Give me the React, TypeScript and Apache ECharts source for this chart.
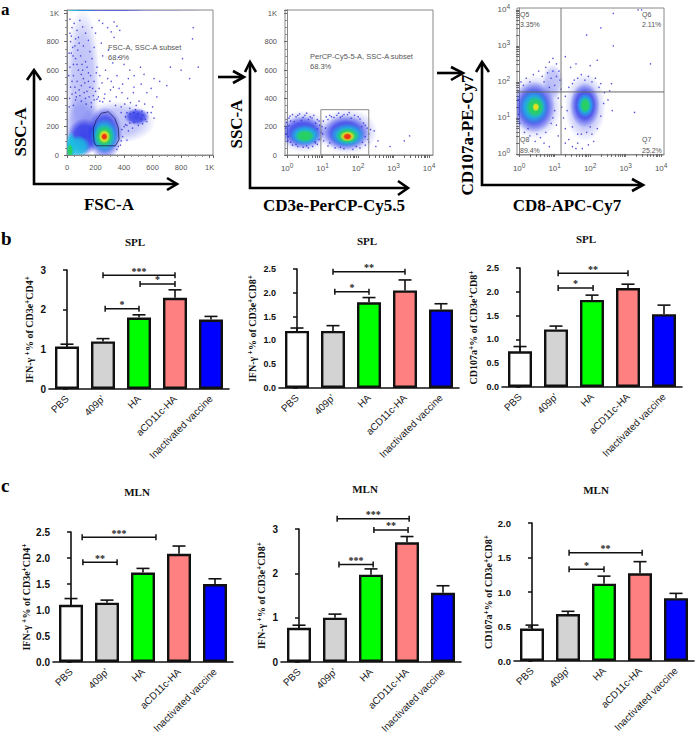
import React, { useEffect, useRef } from "react";
import * as echarts from "echarts";

const categories = ["PBS", "409p'", "HA", "aCD11c-HA", "Inactivated vaccine"];
const barColors = ["#ffffff", "#d3d3d3", "#00ff00", "#ff8080", "#0000ff"];

const b1Values = [1.07, 1.2, 1.8, 2.3, 1.75];
const b1Tops = [1.13, 1.27, 1.87, 2.5, 1.83];
const b2Values = [1.2, 1.2, 1.8, 2.05, 1.65];
const b2Tops = [1.26, 1.31, 1.9, 2.27, 1.77];
const b3Values = [0.75, 1.21, 1.83, 2.08, 1.53];
const b3Tops = [0.85, 1.28, 1.93, 2.16, 1.72];
const c1Values = [1.1, 1.14, 1.72, 2.08, 1.5];
const c1Tops = [1.22, 1.19, 1.8, 2.23, 1.6];
const c2Values = [0.77, 1.0, 1.97, 2.7, 1.56];
const c2Tops = [0.83, 1.08, 2.1, 2.83, 1.72];
const c3Values = [0.47, 0.68, 1.12, 1.27, 0.91];
const c3Tops = [0.52, 0.72, 1.23, 1.44, 0.98];

// [from, to, height, stars]; from and to in category units
const b1Brackets = [[1.0, 3.0, 2.87, "***"], [2.03, 3.0, 2.65, "*"], [1.06, 2.0, 2.02, "*"]];
const b2Brackets = [[1.0, 3.0, 2.44, "**"], [1.05, 2.0, 2.02, "*"]];
const b3Brackets = [[1.06, 3.0, 2.39, "**"], [1.06, 2.03, 2.08, "*"]];
const c1Brackets = [[0.31, 2.36, 2.4, "***"], [0.33, 1.28, 1.92, "**"]];
const c2Brackets = [[1.06, 3.06, 3.23, "***"], [2.08, 3.03, 2.98, "**"], [1.11, 2.06, 2.2, "***"]];
const c3Brackets = [[1.03, 3.06, 1.57, "**"], [1.03, 2.0, 1.33, "*"]];

// density blobs: [centre x, centre y, radius x, radius y, level]
const fscBlobs = [
  [100, 1020, 110, 5, 2], [300, 1020, 300, 3, 1], [600, 1020, 420, 3, 0],
  [110, 520, 120, 520, 0], [100, 200, 130, 230, 0], [350, 230, 270, 150, 0],
  [490, 270, 90, 60, 1], [120, 130, 120, 130, 1], [28, 60, 34, 110, 2],
  [75, 60, 90, 80, 2], [22, 30, 22, 50, 3], [265, 150, 125, 190, 1],
  [262, 135, 100, 125, 2], [262, 132, 70, 85, 3], [262, 130, 42, 50, 4], [262, 130, 24, 26, 5],
];
const cd3Blobs = [
  [0.45, 165, 0.75, 150, 0], [0.45, 160, 0.62, 115, 1], [0.5, 140, 0.44, 75, 2], [0.5, 135, 0.28, 46, 3],
  [1.7, 165, 0.85, 160, 0], [1.65, 155, 0.68, 125, 1], [1.7, 140, 0.5, 85, 2], [1.7, 135, 0.34, 58, 3],
  [1.7, 132, 0.22, 38, 4], [1.7, 130, 0.13, 25, 5],
];
const cd8Blobs = [
  [0.45, 1.3, 0.75, 0.9, 0], [0.42, 1.3, 0.6, 0.72, 1], [0.42, 1.3, 0.42, 0.48, 2], [0.45, 1.3, 0.27, 0.3, 3],
  [0.47, 1.3, 0.1, 0.12, 4], [0.95, 2.0, 0.3, 0.5, 0], [1.86, 1.3, 0.58, 0.95, 0], [1.85, 1.35, 0.42, 0.62, 1],
  [1.86, 1.35, 0.25, 0.34, 2], [1.86, 1.35, 0.15, 0.22, 3],
];

const fscDots = [
  [20, 960], [35, 900], [50, 930], [70, 880], [90, 950], [110, 905], [130, 860], [60, 820], [25, 800], [85, 790],
  [115, 770], [150, 810], [175, 900], [200, 860], [225, 950], [250, 930], [285, 900], [310, 870], [330, 940], [350, 910],
  [370, 880], [330, 830], [240, 790], [190, 760], [160, 730], [30, 720], [60, 680], [95, 700], [130, 660], [175, 680],
  [210, 620], [250, 700], [290, 740], [320, 650], [360, 690], [400, 640], [440, 600], [470, 560], [515, 620], [540, 570],
  [610, 540], [650, 520], [700, 490], [725, 620], [810, 680], [880, 820], [885, 900], [920, 620], [860, 540], [800, 600],
  [20, 620], [45, 560], [80, 600], [115, 540], [150, 580], [190, 520], [230, 560], [270, 600], [310, 520], [350, 560],
  [390, 500], [430, 540], [470, 480], [520, 500], [560, 440], [590, 470], [630, 410], [25, 480], [60, 440], [100, 490],
  [140, 450], [185, 420], [225, 470], [265, 430], [305, 460], [345, 410], [385, 440], [425, 400], [465, 440], [505, 380],
  [545, 360], [600, 340], [40, 760], [75, 740], [105, 640], [140, 620], [165, 560], [205, 580], [245, 510], [285, 540],
  [325, 480], [365, 470], [405, 360], [445, 370], [485, 350], [525, 310], [565, 300], [440, 330], [480, 320], [520, 255],
  [560, 235], [590, 300], [610, 260], [400, 200], [430, 170], [460, 190], [390, 130], [420, 105], [375, 70], [350, 40],
  [60, 390], [90, 420], [130, 400], [170, 370], [210, 395], [250, 375], [300, 380], [340, 350], [380, 340], [420, 300],
  [20, 860], [15, 720], [12, 560], [18, 400], [45, 640], [70, 520], [100, 570], [125, 510], [160, 480], [200, 450],
  [30, 840], [55, 770], [80, 830], [42, 700], [70, 640], [110, 600], [150, 520], [180, 470], [220, 410], [260, 400],
  [35, 520], [55, 480], [85, 460], [120, 440], [155, 410], [190, 390], [230, 380], [35, 430], [65, 410], [100, 380],
  [135, 360], [170, 340], [380, 300], [410, 270], [440, 290], [470, 300], [500, 290], [530, 280], [550, 250], [530, 220],
  [500, 210], [470, 230], [440, 225], [410, 215], [385, 180], [420, 210], [380, 100], [360, 60], [15, 340], [45, 350],
];
const cd3Dots = [
  [-0.02, 230], [0.05, 260], [0.15, 285], [0.25, 270], [0.35, 290], [0.45, 265], [0.55, 295], [0.65, 270], [0.75, 280], [0.85, 250],
  [0.92, 210], [0.95, 160], [0.9, 110], [0.85, 75], [0.72, 60], [0.6, 50], [0.45, 55], [0.3, 60], [0.15, 70], [0.02, 100],
  [-0.03, 150], [-0.04, 190], [0.1, 240], [0.2, 235], [0.4, 245], [0.6, 250], [0.8, 225], [0.85, 185], [0.78, 95], [0.1, 90],
  [1.02, 240], [1.1, 270], [1.2, 280], [1.32, 265], [1.45, 295], [1.6, 285], [1.75, 300], [1.9, 280], [2.05, 255], [2.15, 225],
  [2.25, 190], [2.3, 150], [2.28, 110], [2.2, 70], [2.05, 50], [1.85, 40], [1.6, 45], [1.35, 50], [1.15, 65], [1.03, 100],
  [1.0, 150], [0.98, 200], [1.15, 250], [1.5, 265], [1.8, 260], [2.1, 200], [2.2, 130], [2.12, 90], [1.2, 85], [1.08, 190],
  [2.56, 100], [2.9, 60], [3.3, 100], [3.45, 135], [2.45, 170], [2.5, 60],
  [0.08, 275], [0.3, 280], [0.5, 280], [0.7, 262], [0.9, 240], [0.03, 130], [0.05, 205], [0.25, 75], [0.55, 65], [0.8, 85],
  [1.25, 270], [1.4, 280], [1.55, 275], [1.7, 285], [2.0, 270], [2.2, 210], [2.35, 180], [2.3, 90], [1.95, 60], [1.5, 55],
];
const cd8Dots = [
  [0.05, 2.0], [0.2, 2.1], [0.4, 2.2], [0.55, 2.3], [0.65, 2.15], [0.75, 2.4], [0.85, 2.55], [0.95, 2.65], [1.05, 2.5], [1.12, 2.3],
  [1.15, 2.05], [1.18, 1.8], [1.1, 1.55], [1.0, 1.2], [0.9, 0.85], [0.75, 0.6], [0.6, 0.45], [0.45, 0.35], [0.3, 0.5], [0.15, 0.6],
  [0.02, 0.85], [-0.02, 1.1], [-0.03, 1.5], [0.95, 2.3], [0.8, 2.25], [0.7, 0.3], [0.85, 0.2], [1.05, 0.8], [1.2, 1.3], [1.25, 1.0],
  [1.3, 0.7], [1.4, 0.4], [1.5, 0.2], [1.65, 0.3], [1.78, 0.15], [1.95, 0.25], [2.1, 0.35], [2.2, 0.7], [2.3, 1.05], [2.38, 1.4],
  [2.4, 1.7], [2.3, 1.95], [2.15, 2.1], [1.95, 2.15], [1.75, 2.2], [1.55, 2.05], [1.4, 1.85], [1.3, 1.6], [1.35, 1.2], [1.5, 0.75],
  [1.9, 0.6], [2.05, 0.55], [1.65, 0.55], [2.5, 1.5], [2.62, 1.2], [2.55, 1.75], [2.6, 1.95], [3.25, 1.15], [3.7, 2.5], [2.65, 3.0],
  [2.2, 2.6], [2.0, 2.45], [1.45, 2.4], [1.3, 2.7], [1.9, 3.3], [2.3, 3.5], [2.65, 3.9], [3.35, 4.0], [3.45, 4.0], [1.6, 2.5],
  [0.7, 2.0], [0.9, 2.1], [1.0, 1.9], [0.85, 1.85], [1.05, 2.15], [0.3, 2.0], [0.12, 1.9], [0.25, 0.7], [0.5, 0.55], [0.95, 1.0],
  [1.1, 0.5], [1.3, 0.3], [1.6, 0.15], [1.75, 0.55], [2.0, 0.75], [2.25, 1.85], [1.5, 1.95], [1.65, 2.1], [1.85, 2.05], [2.05, 2.0],
];
const fscGate = [
  [185, 150], [190, 90], [205, 65], [340, 65], [365, 110], [360, 190], [335, 260], [290, 305], [240, 295], [205, 245], [185, 190], [185, 150],
];
const cd3Gate = [[0.95, 0], [0.95, 320], [2.3, 320], [2.3, 0], [0.95, 0]];
const quadVertical = [[1.18, -0.03], [1.18, 4.05]];
const quadHorizontal = [[-0.06, 1.72], [4.08, 1.72]];

const linearTickLabels: Record<number, string> = { 0: "0", 200: "200", 400: "400", 600: "600", 800: "800", 1000: "1K" };
const decades = [0, 1, 2, 3, 4];
const logMinorOffsets = [0, 0.3, 0.48, 0.6, 0.7, 0.78, 0.85, 0.9, 0.95];

const blobColors = ["70,80,235", "30,40,230", "25,190,225", "40,210,90", "245,225,30", "240,40,20"];
const blobAlpha = [0.36, 0.8, 0.95, 1, 1, 1];

const SERIF = "Liberation Serif";
const SANS = "Liberation Sans";
const GREY = "#555";

const logTicks = decades.flatMap((d) => logMinorOffsets.map((o) => d + o)).filter((v) => v <= 4);
const logLabel = { fontSize: 7.5, color: GREY, fontFamily: SANS };
const logRich = {
  b: { fontSize: 8, color: GREY, fontFamily: SANS },
  s: { fontSize: 6.5, color: GREY, fontFamily: SANS, padding: [0, 0, 6, 0] },
};

function linearAxis(gridIndex: number) {
  return {
    type: "value", gridIndex, min: 0, max: 1024, interval: 200,
    axisLine: { show: true, lineStyle: { color: "#888" } },
    axisTick: { show: true, length: 3, lineStyle: { color: "#666" } },
    minorTick: { show: true, splitNumber: 4, length: 2, lineStyle: { color: "#888" } },
    splitLine: { show: false },
    axisLabel: { ...logLabel, margin: 8, showMaxLabel: true, formatter: (v: number) => linearTickLabels[v] ?? "" },
  };
}
function logAxis(gridIndex: number, min: number, max: number) {
  return {
    type: "value", gridIndex, min, max,
    axisLine: { show: true, lineStyle: { color: "#888" } },
    axisTick: { show: true, length: 3, customValues: logTicks, lineStyle: { color: "#666" } },
    splitLine: { show: false },
    axisLabel: {
      ...logLabel, margin: 7, customValues: decades, hideOverlap: false,
      formatter: (v: number) => `{b|10}{s|${Math.round(v)}}`, rich: logRich,
    },
  };
}

function blobSeries(data: number[][], x: number, y: number) {
  return {
    type: "custom", xAxisIndex: x, yAxisIndex: y, z: 1, clip: true, silent: true, data,
    renderItem: (_p: any, api: any) => {
      const c = api.coord([api.value(0), api.value(1)]);
      const s = api.size([api.value(2), api.value(3)]);
      const lv = api.value(4);
      const rgb = blobColors[lv];
      const a = blobAlpha[lv];
      return {
        type: "ellipse",
        shape: { cx: c[0], cy: c[1], rx: s[0], ry: s[1] },
        style: {
          fill: {
            type: "radial", x: 0.5, y: 0.5, r: 0.5,
            colorStops: [
              { offset: 0, color: `rgba(${rgb},${a})` },
              { offset: 0.6, color: `rgba(${rgb},${a * 0.85})` },
              { offset: 1, color: `rgba(${rgb},0)` },
            ],
          },
        },
      };
    },
  };
}
function dotSeries(data: number[][], x: number, y: number) {
  return { type: "scatter", xAxisIndex: x, yAxisIndex: y, z: 2, silent: true, data, symbolSize: 1.5, itemStyle: { color: "#2a2ad8" } };
}
function pathSeries(data: number[][], x: number, y: number, color: string, width = 1) {
  return {
    type: "line", xAxisIndex: x, yAxisIndex: y, z: 3, silent: true, data, symbol: "none",
    lineStyle: { color, width },
  };
}

const axisColor = "#111";

type Panel = {
  left: number; top: number; height: number; width: number; max: number; interval: number; decimals: number;
  tickFont: number; name: string; nameGap: number; values: number[]; tops: number[]; brackets: any[];
  title: string; titleX: number; titleY: number;
};
const sup = (...parts: string[]) => parts.map((p, i) => (i % 2 ? `{s|${p}}` : `{t|${p}}`)).join("");

const panels: Panel[] = [
  { left: 49, top: 270, height: 119, width: 180, max: 3, interval: 1, decimals: 0, tickFont: 10, nameGap: 13,
    name: sup("IFN-γ ", "+", "% of CD3e", "+", "CD4", "+"), values: b1Values, tops: b1Tops, brackets: b1Brackets, title: "SPL", titleX: 135, titleY: 236 },
  { left: 279, top: 269, height: 119, width: 180, max: 2.5, interval: 0.5, decimals: 1, tickFont: 9, nameGap: 20,
    name: sup("IFN-γ ", "+", "% of CD3e", "+", "CD8", "+"), values: b2Values, tops: b2Tops, brackets: b2Brackets, title: "SPL", titleX: 367, titleY: 235 },
  { left: 502, top: 268, height: 119, width: 180, max: 2.5, interval: 0.5, decimals: 1, tickFont: 9, nameGap: 22,
    name: sup("CD107a", "+", "% of CD3e", "+", "CD8", "+"), values: b3Values, tops: b3Tops, brackets: b3Brackets, title: "SPL", titleX: 586, titleY: 233 },
  { left: 53, top: 532, height: 130, width: 180, max: 2.5, interval: 0.5, decimals: 1, tickFont: 10, nameGap: 20,
    name: sup("IFN-γ ", "+", "% of CD3e", "+", "CD4", "+"), values: c1Values, tops: c1Tops, brackets: c1Brackets, title: "MLN", titleX: 137, titleY: 486 },
  { left: 281, top: 529, height: 133, width: 180, max: 3, interval: 1, decimals: 0, tickFont: 10, nameGap: 13,
    name: sup("IFN-γ ", "+", "% of CD3e", "+", "CD8", "+"), values: c2Values, tops: c2Tops, brackets: c2Brackets, title: "MLN", titleX: 365, titleY: 483 },
  { left: 514, top: 523, height: 138, width: 180, max: 2, interval: 0.5, decimals: 1, tickFont: 9.5, nameGap: 19,
    name: sup("CD107a", "+", "% of CD3e", "+", "CD8", "+"), values: c3Values, tops: c3Tops, brackets: c3Brackets, title: "MLN", titleX: 596, titleY: 484 },
];

function gfxText(text: string, x: number, y: number, size: number, opt: any = {}) {
  const { rotation, weight, family, fill, align, ...rest } = opt;
  return {
    type: "text", x, y, rotation: rotation ?? 0, silent: true,
    style: {
      text, fontSize: size, fontWeight: weight ?? "normal", fontFamily: family ?? SANS, fill: fill ?? "#000",
      textAlign: align ?? "left", textVerticalAlign: "middle", ...rest,
    },
  };
}
function stroke(points: number[][]) {
  return {
    type: "polyline", silent: true, shape: { points },
    style: { stroke: "#000", lineWidth: 2.6, fill: "none", lineJoin: "miter" },
  };
}
const serifBold = { weight: "bold", family: SERIF };
const up = { ...serifBold, rotation: Math.PI / 2, align: "center" };

function buildOption() {
  const grid: any[] = [
    { left: 67, top: 10, width: 146, height: 145, show: true, borderColor: "#888", borderWidth: 1, backgroundColor: "#fff" },
    { left: 285, top: 10, width: 148, height: 145, show: true, borderColor: "#888", borderWidth: 1, backgroundColor: "#fff" },
    { left: 517, top: 8, width: 147, height: 147, show: true, borderColor: "#888", borderWidth: 1, backgroundColor: "#fff" },
  ];
  const xAxis: any[] = [linearAxis(0), logAxis(1, -0.06, 4.11), logAxis(2, -0.06, 4.08)];
  const yAxis: any[] = [linearAxis(0), linearAxis(1), logAxis(2, -0.03, 4.05)];
  const series: any[] = [
    blobSeries(fscBlobs, 0, 0), dotSeries(fscDots, 0, 0), pathSeries(fscGate, 0, 0, "#1a1a5a", 0.8),
    blobSeries(cd3Blobs, 1, 1), dotSeries(cd3Dots, 1, 1), pathSeries(cd3Gate, 1, 1, "#888"),
    blobSeries(cd8Blobs, 2, 2), dotSeries(cd8Dots, 2, 2),
    pathSeries(quadVertical, 2, 2, "#777"), pathSeries(quadHorizontal, 2, 2, "#666"),
  ];
  const title: any[] = [];

  panels.forEach((p) => {
    const g = grid.length;
    grid.push({ left: p.left, top: p.top, width: p.width, height: p.height });
    const xCat = xAxis.length;
    xAxis.push({
      type: "category", gridIndex: g, data: categories,
      axisLine: { lineStyle: { color: axisColor, width: 1.6 } },
      axisTick: { alignWithLabel: true, length: 4, lineStyle: { color: axisColor, width: 1.5 } },
      axisLabel: { interval: 0, rotate: 45, margin: 8, fontSize: 10, color: "#222", fontFamily: SANS },
    });
    const xVal = xAxis.length;
    xAxis.push({ type: "value", gridIndex: g, min: -0.5, max: 4.5, show: false, splitLine: { show: false } });
    const y = yAxis.length;
    yAxis.push({
      type: "value", gridIndex: g, min: 0, max: p.max, interval: p.interval,
      axisLine: { show: true, lineStyle: { color: axisColor, width: 1.6 } },
      axisTick: { show: true, length: 4, lineStyle: { color: axisColor, width: 1.5 } },
      splitLine: { show: false },
      axisLabel: {
        margin: 3, fontSize: p.tickFont, fontWeight: "bold", color: "#111", fontFamily: SANS,
        formatter: (v: number) => v.toFixed(p.decimals),
      },
      name: p.name, nameLocation: "middle", nameGap: p.nameGap, nameRotate: 90,
      nameTextStyle: {
        rich: {
          t: { fontSize: 10, fontWeight: "bold", fontFamily: SERIF, color: "#111" },
          s: { fontSize: 7.5, fontWeight: "bold", fontFamily: SERIF, color: "#111", padding: [0, 0, 5, 0] },
        },
      },
    });
    series.push({
      type: "bar", xAxisIndex: xCat, yAxisIndex: y, barWidth: 24, z: 3, silent: true,
      data: p.values.map((v, i) => ({
        value: v, itemStyle: { color: barColors[i], borderColor: "#111", borderWidth: 2.4 },
      })),
    });
    series.push({
      type: "custom", xAxisIndex: xCat, yAxisIndex: y, z: 2, silent: true,
      data: p.tops.map((top, i) => [i, p.values[i], top]),
      renderItem: (_: any, api: any) => {
        const a = api.coord([api.value(0), api.value(1)]);
        const b = api.coord([api.value(0), api.value(2)]);
        const ls = { stroke: "#111", lineWidth: 1.6 };
        return {
          type: "group",
          children: [
            { type: "line", shape: { x1: a[0], y1: a[1], x2: b[0], y2: b[1] }, style: ls },
            { type: "line", shape: { x1: b[0] - 6.5, y1: b[1], x2: b[0] + 6.5, y2: b[1] }, style: ls },
          ],
        };
      },
    });
    series.push({
      type: "custom", xAxisIndex: xVal, yAxisIndex: y, z: 4, silent: true, clip: false,
      data: p.brackets.map((b) => b.slice(0, 3)),
      renderItem: (params: any, api: any) => {
        const a = api.coord([api.value(0), api.value(2)]);
        const b = api.coord([api.value(1), api.value(2)]);
        const ls = { stroke: "#111", lineWidth: 1.5 };
        return {
          type: "group",
          children: [
            { type: "line", shape: { x1: a[0], y1: a[1], x2: b[0], y2: b[1] }, style: ls },
            { type: "line", shape: { x1: a[0], y1: a[1] - 3, x2: a[0], y2: a[1] + 3 }, style: ls },
            { type: "line", shape: { x1: b[0], y1: b[1] - 3, x2: b[0], y2: b[1] + 3 }, style: ls },
            {
              type: "text", x: (a[0] + b[0]) / 2, y: a[1] - 4,
              style: {
                text: p.brackets[params.dataIndex][3], fontSize: 10, fontWeight: "bold", fontFamily: SERIF,
                fill: "#222", textAlign: "center", textVerticalAlign: "middle",
              },
            },
          ],
        };
      },
    });
    title.push({
      text: p.title, left: p.titleX, top: p.titleY, textAlign: "center", padding: 0,
      textStyle: { fontSize: 11, fontWeight: "bold", fontFamily: SERIF, color: "#111" },
    });
  });

  const graphic = [
    gfxText("a", 1, 9, 17, serifBold),
    gfxText("b", 1, 238, 19, serifBold),
    gfxText("c", 1, 485, 19, serifBold),
    gfxText("FSC-A, SSC-A subset", 108, 47, 7.5, { fill: GREY }),
    gfxText("68.9%", 108, 57, 7.5, { fill: GREY }),
    gfxText("PerCP-Cy5-5-A, SSC-A subset", 310, 56, 7.5, { fill: GREY }),
    gfxText("68.3%", 310, 66, 7.5, { fill: GREY }),
    gfxText("Q5", 520, 14, 7, { fill: GREY }),
    gfxText("3.35%", 520, 24, 7, { fill: GREY }),
    gfxText("Q6", 642, 14, 7, { fill: GREY }),
    gfxText("2.11%", 642, 24, 7, { fill: GREY }),
    gfxText("Q8", 520, 139, 7, { fill: GREY }),
    gfxText("89.4%", 520, 150, 7, { fill: GREY }),
    gfxText("Q7", 642, 139, 7, { fill: GREY }),
    gfxText("25.2%", 642, 150, 7, { fill: GREY }),
    gfxText("SSC-A", 20, 132, 17, up),
    gfxText("FSC-A", 109, 204, 17, { ...serifBold, align: "center" }),
    gfxText("SSC-A", 236, 124, 17, up),
    gfxText("CD3e-PerCP-Cy5.5", 334, 205, 17, { ...serifBold, align: "center" }),
    gfxText("CD107a-PE-Cy7", 467, 135, 17, up),
    gfxText("CD8-APC-Cy7", 567, 205, 17, { ...serifBold, align: "center" }),
    stroke([[34, 71], [34, 184], [176, 184]]), stroke([[27, 80], [34, 70], [41, 80]]), stroke([[167, 178], [177, 184], [167, 190]]),
    stroke([[218, 77], [243, 77]]), stroke([[233, 71], [244, 77], [233, 83]]),
    stroke([[250, 64], [250, 188], [407, 188]]), stroke([[245, 72], [250, 62], [256, 72]]), stroke([[398, 181], [408, 188], [398, 195]]),
    stroke([[437, 73], [462, 73]]), stroke([[451, 67], [463, 73], [451, 80]]),
    stroke([[482, 63], [482, 185], [642, 185]]), stroke([[476, 72], [482, 62], [489, 72]]), stroke([[632, 179], [643, 185], [632, 191]]),
  ];

  return { animation: false, backgroundColor: "#fff", title, grid, xAxis, yAxis, series, graphic };
}

export default function App() {
  const ref = useRef<HTMLDivElement>(null);
  useEffect(() => {
    const chart = echarts.init(ref.current!, null, { renderer: "svg" });
    chart.setOption(buildOption() as any);
    return () => chart.dispose();
  }, []);
  return <div ref={ref} style={{ position: "absolute", left: 0, top: 0, width: 696, height: 739 }} />;
}
